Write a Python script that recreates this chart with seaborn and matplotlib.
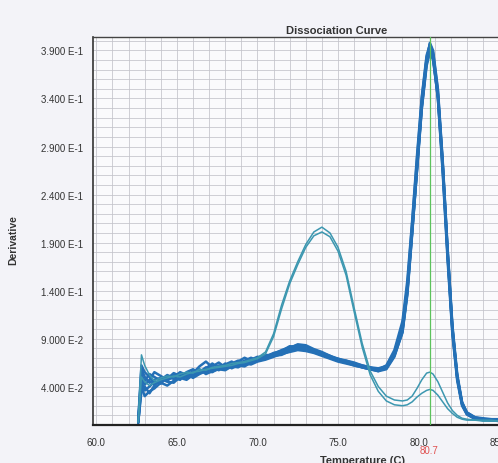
import pandas as pd
import matplotlib
matplotlib.use("Agg")
import matplotlib.pyplot as plt
import seaborn as sns
from matplotlib.ticker import FixedLocator, MultipleLocator

# ---------------------------------------------------------
# Data
# ---------------------------------------------------------
temps = [62.6, 62.8, 63.0, 63.3, 63.6, 64.0, 64.4, 64.8, 65.2, 65.6,
         66.0, 66.4, 66.8, 67.2, 67.6, 68.0, 68.4, 68.8, 69.2, 69.6,
         70.0, 70.5, 71.0, 71.5, 72.0, 72.5, 73.0, 73.5, 74.0, 74.5,
         75.0, 75.5, 76.0, 76.5, 77.0, 77.5, 78.0, 78.5, 79.0, 79.3,
         79.6, 79.9, 80.2, 80.5, 80.7, 80.9, 81.2, 81.5, 81.8, 82.1,
         82.4, 82.7, 83.0, 83.5, 84.0, 84.5, 85.0, 85.5]

well_b1 = [0.004, 0.058, 0.050, 0.044, 0.047, 0.049, 0.046, 0.052, 0.050, 0.054,
           0.053, 0.057, 0.055, 0.058, 0.060, 0.058, 0.062, 0.064, 0.063, 0.066,
           0.068, 0.070, 0.073, 0.076, 0.078, 0.080, 0.079, 0.077, 0.074, 0.071,
           0.068, 0.066, 0.063, 0.061, 0.059, 0.058, 0.061, 0.075, 0.100, 0.140,
           0.205, 0.270, 0.335, 0.380, 0.395, 0.386, 0.345, 0.270, 0.180, 0.100,
           0.050, 0.022, 0.012, 0.007, 0.006, 0.005, 0.005, 0.005]
well_b2 = [0.002, 0.045, 0.036, 0.040, 0.045, 0.043, 0.050, 0.048, 0.053, 0.051,
           0.056, 0.055, 0.060, 0.057, 0.062, 0.061, 0.060, 0.065, 0.066, 0.064,
           0.069, 0.072, 0.074, 0.078, 0.081, 0.083, 0.081, 0.078, 0.075, 0.072,
           0.069, 0.066, 0.064, 0.062, 0.060, 0.057, 0.059, 0.072, 0.096, 0.135,
           0.198, 0.265, 0.330, 0.378, 0.398, 0.390, 0.350, 0.275, 0.185, 0.104,
           0.053, 0.024, 0.013, 0.008, 0.006, 0.006, 0.005, 0.005]
well_b3 = [0.005, 0.062, 0.055, 0.050, 0.042, 0.047, 0.052, 0.049, 0.047, 0.055,
           0.058, 0.054, 0.059, 0.064, 0.059, 0.063, 0.066, 0.062, 0.067, 0.070,
           0.067, 0.071, 0.075, 0.077, 0.080, 0.084, 0.083, 0.079, 0.076, 0.072,
           0.068, 0.067, 0.064, 0.060, 0.058, 0.056, 0.060, 0.074, 0.103, 0.145,
           0.210, 0.276, 0.340, 0.383, 0.393, 0.382, 0.340, 0.265, 0.176, 0.097,
           0.048, 0.021, 0.011, 0.007, 0.005, 0.005, 0.004, 0.004]
well_b4 = [0.003, 0.040, 0.030, 0.035, 0.038, 0.044, 0.041, 0.046, 0.049, 0.047,
           0.052, 0.058, 0.053, 0.056, 0.058, 0.057, 0.061, 0.060, 0.064, 0.063,
           0.066, 0.068, 0.071, 0.074, 0.076, 0.078, 0.077, 0.075, 0.072, 0.069,
           0.066, 0.064, 0.062, 0.060, 0.058, 0.057, 0.060, 0.076, 0.104, 0.142,
           0.202, 0.268, 0.332, 0.376, 0.390, 0.383, 0.344, 0.272, 0.183, 0.102,
           0.051, 0.023, 0.013, 0.008, 0.007, 0.006, 0.006, 0.005]
well_b5 = [0.004, 0.052, 0.046, 0.053, 0.050, 0.046, 0.048, 0.054, 0.051, 0.049,
           0.054, 0.061, 0.066, 0.060, 0.057, 0.062, 0.064, 0.067, 0.065, 0.068,
           0.071, 0.070, 0.074, 0.077, 0.082, 0.081, 0.080, 0.076, 0.073, 0.070,
           0.067, 0.065, 0.063, 0.061, 0.059, 0.058, 0.062, 0.078, 0.108, 0.150,
           0.212, 0.280, 0.342, 0.385, 0.396, 0.384, 0.340, 0.262, 0.172, 0.094,
           0.046, 0.020, 0.011, 0.006, 0.005, 0.005, 0.005, 0.004]
well_b6 = [0.002, 0.048, 0.042, 0.047, 0.055, 0.051, 0.047, 0.050, 0.055, 0.052,
           0.050, 0.056, 0.057, 0.061, 0.065, 0.060, 0.063, 0.066, 0.070, 0.067,
           0.070, 0.073, 0.072, 0.075, 0.079, 0.082, 0.082, 0.077, 0.075, 0.071,
           0.069, 0.067, 0.065, 0.062, 0.060, 0.059, 0.061, 0.073, 0.098, 0.138,
           0.200, 0.266, 0.333, 0.381, 0.397, 0.388, 0.348, 0.273, 0.182, 0.101,
           0.050, 0.023, 0.012, 0.007, 0.006, 0.005, 0.005, 0.005]
well_b7 = [0.003, 0.035, 0.040, 0.033, 0.041, 0.048, 0.045, 0.044, 0.050, 0.053,
           0.049, 0.053, 0.056, 0.055, 0.059, 0.064, 0.059, 0.062, 0.061, 0.065,
           0.067, 0.069, 0.072, 0.073, 0.077, 0.079, 0.078, 0.076, 0.073, 0.070,
           0.067, 0.065, 0.062, 0.060, 0.058, 0.056, 0.058, 0.071, 0.097, 0.137,
           0.200, 0.264, 0.329, 0.374, 0.388, 0.380, 0.342, 0.268, 0.178, 0.098,
           0.049, 0.022, 0.012, 0.007, 0.006, 0.005, 0.005, 0.005]

# two wells with the primer-dimer peak near 74 C
well_t1 = [0.003, 0.073, 0.062, 0.052, 0.046, 0.049, 0.051, 0.050, 0.053, 0.055,
           0.054, 0.058, 0.057, 0.060, 0.061, 0.062, 0.064, 0.065, 0.066, 0.068,
           0.070, 0.076, 0.095, 0.125, 0.150, 0.170, 0.188, 0.201, 0.206, 0.200,
           0.185, 0.160, 0.122, 0.085, 0.056, 0.040, 0.030, 0.026, 0.025, 0.026,
           0.030, 0.038, 0.047, 0.054, 0.055, 0.053, 0.045, 0.034, 0.023, 0.015,
           0.010, 0.007, 0.006, 0.005, 0.005, 0.005, 0.004, 0.004]
well_t2 = [0.003, 0.050, 0.045, 0.041, 0.044, 0.047, 0.049, 0.051, 0.050, 0.053,
           0.055, 0.056, 0.058, 0.059, 0.060, 0.061, 0.062, 0.064, 0.065, 0.067,
           0.069, 0.074, 0.092, 0.121, 0.147, 0.167, 0.185, 0.197, 0.201, 0.196,
           0.181, 0.156, 0.118, 0.081, 0.052, 0.035, 0.025, 0.021, 0.020, 0.021,
           0.024, 0.029, 0.033, 0.036, 0.037, 0.036, 0.031, 0.024, 0.017, 0.012,
           0.008, 0.006, 0.005, 0.005, 0.004, 0.004, 0.004, 0.004]

blue_wells = {"B1": well_b1, "B2": well_b2, "B3": well_b3, "B4": well_b4,
              "B5": well_b5, "B6": well_b6, "B7": well_b7}
teal_wells = {"T1": well_t1, "T2": well_t2}

tm_value = 80.7
x_ticks = [60.0, 65.0, 70.0, 75.0, 80.0, 85.0, 90.0]
y_ticks = [0.04, 0.09, 0.14, 0.19, 0.24, 0.29, 0.34, 0.39]
y_labels = ["4.000 E-2", "9.000 E-2", "1.400 E-1", "1.900 E-1",
            "2.400 E-1", "2.900 E-1", "3.400 E-1", "3.900 E-1"]


def to_long(wells):
    frames = [pd.DataFrame({"temp": temps, "deriv": vals, "well": name})
              for name, vals in wells.items()]
    return pd.concat(frames, ignore_index=True)


blue_df = to_long(blue_wells)
teal_df = to_long(teal_wells)

# ---------------------------------------------------------
# Plot
# ---------------------------------------------------------
sns.set_style("white")
plt.rcParams["font.family"] = ["Liberation Sans", "DejaVu Sans"]

fig = plt.figure(figsize=(4.98, 4.64), dpi=100, facecolor="#f3f3f8")
ax = fig.add_axes([0.187, 0.082, 0.977, 0.836])
ax.set_facecolor("#fafafc")

sns.lineplot(data=blue_df, x="temp", y="deriv", units="well", estimator=None,
             sort=False, color="#2470b6", linewidth=1.8, ax=ax)
sns.lineplot(data=teal_df, x="temp", y="deriv", units="well", estimator=None,
             sort=False, color="#3c97b0", linewidth=1.1, ax=ax)

ax.axvline(tm_value, color="#5cc25c", linewidth=0.9, zorder=3)

ax.set_xlim(59.8, 90.0)
ax.set_ylim(0.0, 0.404)
ax.xaxis.set_major_locator(FixedLocator(x_ticks))
ax.xaxis.set_minor_locator(MultipleLocator(1.0))
ax.yaxis.set_major_locator(FixedLocator(y_ticks))
ax.yaxis.set_minor_locator(MultipleLocator(0.01))
ax.set_xticklabels([f"{t:.1f}" for t in x_ticks])
ax.set_yticklabels(y_labels)

ax.grid(True, which="both", color="#c2c2ca", linewidth=0.55)
ax.set_axisbelow(True)
ax.tick_params(axis="both", which="major", labelsize=7, colors="#333333",
               length=6, width=0.8, direction="out")
ax.tick_params(axis="both", which="minor", length=3, width=0.6,
               color="#999999", direction="out")
ax.tick_params(axis="y", pad=1)
ax.tick_params(axis="x", pad=3)

for side, lw, col in [("left", 1.2, "#333333"), ("bottom", 1.6, "#222222"),
                      ("top", 1.0, "#444444"), ("right", 1.0, "#444444")]:
    ax.spines[side].set_linewidth(lw)
    ax.spines[side].set_color(col)

ax.set_xlabel("")
ax.set_ylabel("")
ax.set_title("Dissociation Curve", fontsize=8, fontweight="bold",
             color="#333333", pad=3)

fig.text(13 / 498, 1 - 240 / 464, "Derivative", rotation=90, fontsize=7.5,
         fontweight="bold", color="#333333", ha="center", va="center")
fig.text(362 / 498, 1 - 456 / 464, "Temperature (C)", fontsize=8,
         fontweight="bold", color="#333333", ha="center", va="top")
fig.text(429 / 498, 1 - 451 / 464, f"{tm_value}", fontsize=7,
         color="#e05050", ha="center", va="center")

fig.savefig("out.png", dpi=100, facecolor=fig.get_facecolor())
